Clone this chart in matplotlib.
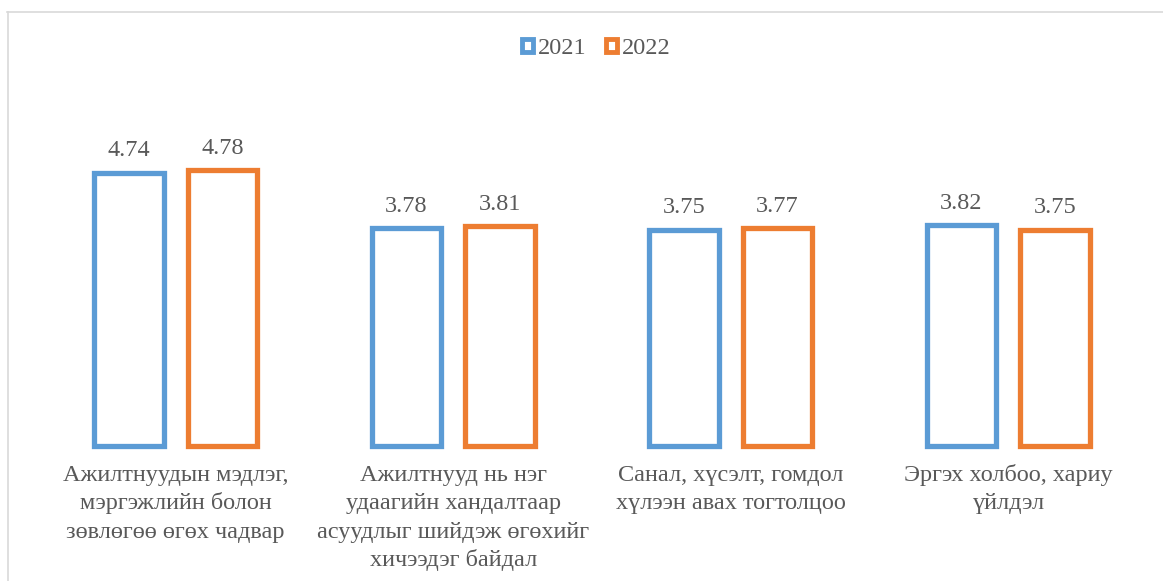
import matplotlib
matplotlib.use("Agg")
import matplotlib.pyplot as plt
from matplotlib.patches import Patch
from matplotlib.lines import Line2D
import numpy as np

plt.rcParams['font.family'] = ['Liberation Serif', 'DejaVu Serif']

categories = [
    "Ажилтнуудын мэдлэг,\nмэргэжлийн болон\nзөвлөгөө өгөх чадвар",
    "Ажилтнууд нь нэг\nудаагийн хандалтаар\nасуудлыг шийдэж өгөхийг\nхичээдэг байдал",
    "Санал, хүсэлт, гомдол\nхүлээн авах тогтолцоо",
    "Эргэх холбоо, хариу\nүйлдэл",
]
series_names = ["2021", "2022"]
values_2021 = [4.74, 3.78, 3.75, 3.82]
values_2022 = [4.78, 3.81, 3.77, 3.75]

colors = ["#5B9BD5", "#ED7D31"]
text_color = "#595959"
fs = 17.5

fig = plt.figure(figsize=(11.63, 5.81), dpi=100)
ax = fig.add_axes([0.0318, 0.2332, 0.9544, 0.5948])

x = np.arange(len(categories))
offset = 0.169
width = 0.25
for vals, off, c in zip([values_2021, values_2022], [-offset, offset], colors):
    bars = ax.bar(x + off, vals, width, facecolor="white", edgecolor=c,
                  linewidth=3.8, clip_on=False)
    for b, v in zip(bars, vals):
        ax.annotate(f"{v:.2f}", (b.get_x() + b.get_width() / 2, v),
                    xytext=(0, 8), textcoords="offset points",
                    ha="center", va="bottom", fontsize=fs, color=text_color)

ax.set_xlim(-0.5, len(categories) - 0.5)
ax.set_ylim(0, 6)
ax.set_yticks([])
ax.set_xticks([])
# category labels: one line at a time so the first baselines line up
for xi, lab in zip(x, categories):
    for i, line in enumerate(lab.split("\n")):
        ax.annotate(line, (xi, 0), xycoords=("data", "axes fraction"),
                    xytext=(0, -(35.5 + i * 28.3) * 0.72), textcoords="offset points",
                    ha="center", va="baseline", fontsize=fs, color=text_color)
for s in ax.spines.values():
    s.set_visible(False)

handles = [Patch(facecolor="white", edgecolor=c, linewidth=3.5) for c in colors]
fig.legend(handles, series_names, loc="center", bbox_to_anchor=(0.513, 0.917),
           ncol=2, frameon=False, fontsize=fs, labelcolor=text_color,
           handlelength=0.45, handleheight=0.45, handletextpad=0.2, columnspacing=0.8)

# chart border (top and left edges visible)
fig.add_artist(Line2D([0.006, 1.0], [0.979, 0.979], transform=fig.transFigure,
                      color="#D9D9D9", linewidth=1.2))
fig.add_artist(Line2D([0.0065, 0.0065], [0.0, 0.979], transform=fig.transFigure,
                      color="#D9D9D9", linewidth=1.2))

fig.savefig("out.png", dpi=100)
